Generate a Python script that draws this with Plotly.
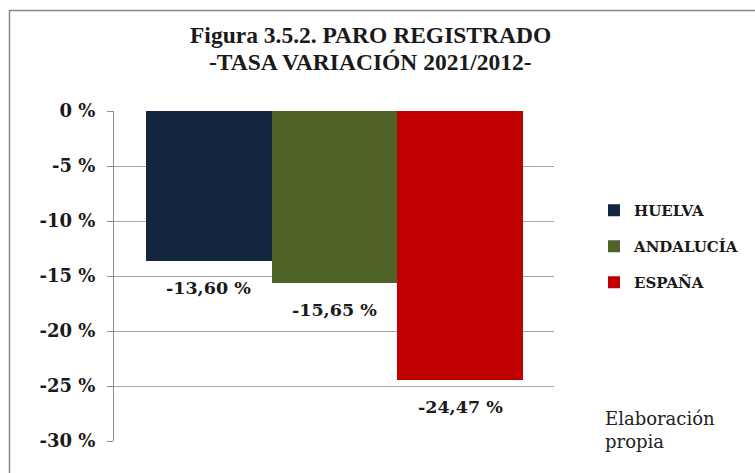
import plotly.graph_objects as go

# ---- data ----
regions = ["HUELVA", "ANDALUCÍA", "ESPAÑA"]
values = [-13.60, -15.65, -24.47]
value_labels = ["-13,60 %", "-15,65 %", "-24,47 %"]
colors = ["#14263f", "#4f6228", "#c00000"]
tick_vals = [0, -5, -10, -15, -20, -25, -30]
tick_text = ["0 %", "-5 %", "-10 %", "-15 %", "-20 %", "-25 %", "-30 %"]
title_lines = ["Figura 3.5.2. PARO REGISTRADO", "-TASA VARIACIÓN 2021/2012-"]
source_text = ["Elaboración", "propia"]

W, H = 755, 473
L, R, T, B = 114, 201, 111, 32
pw, ph = W - L - R, H - T - B


def px_x(x):
    return (x - L) / pw


def px_y(y):
    return (H - B - y) / ph


fig = go.Figure()
for name, v, c in zip(regions, values, colors):
    fig.add_trace(go.Bar(
        x=[name], y=[v], name=name, marker=dict(color=c, line=dict(width=0)),
        legendgroup=name, hoverinfo="skip",
    ))

for name, v, lab in zip(regions, values, value_labels):
    fig.add_annotation(
        x=name, y=v, text=lab, showarrow=False, yanchor="middle",
        yshift=-27, font=dict(family="DejaVu Serif", size=17.5, color="#1a1a1a", weight="bold"),
    )

# title lines
for line, yc in zip(title_lines, [35, 61.5]):
    fig.add_annotation(
        xref="paper", yref="paper", x=px_x(370), y=px_y(yc),
        xanchor="center", yanchor="middle", text=line, showarrow=False,
        font=dict(family="Liberation Serif", size=23.5, color="#1a1a1a", weight="bold"),
    )

fig.add_annotation(
    xref="paper", yref="paper",
    x=px_x(603), y=px_y(430),
    xanchor="left", yanchor="middle", align="left",
    text="<br>".join(source_text), showarrow=False,
    font=dict(family="DejaVu Serif", size=18, color="#222222"),
)

# outer frame
fig.add_shape(
    type="rect", xref="paper", yref="paper",
    x0=px_x(9.5), x1=px_x(W + 10),
    y0=px_y(H + 10), y1=px_y(10.5),
    line=dict(color="#8a8a8a", width=1.5), layer="below",
)

fig.update_layout(
    width=W, height=H,
    margin=dict(l=L, r=R, t=T, b=B, autoexpand=False),
    paper_bgcolor="white", plot_bgcolor="white",
    barmode="relative", bargap=0,
    showlegend=True,
    legend=dict(
        x=px_x(594), xanchor="left",
        y=px_y(246.5), yanchor="middle",
        font=dict(family="DejaVu Serif", size=15, color="#1a1a1a", weight="bold"),
        tracegroupgap=13.5, traceorder="grouped",
        bgcolor="rgba(0,0,0,0)",
    ),
    xaxis=dict(
        range=[-0.755, 2.747], showticklabels=False, showgrid=False,
        zeroline=False, showline=False, ticks="",
    ),
    yaxis=dict(
        range=[-30, 0], tickvals=tick_vals, ticktext=tick_text,
        showgrid=True, gridcolor="#a6a6a6", gridwidth=1,
        zeroline=False, showline=True, linecolor="#8c8c8c", linewidth=1,
        ticks="outside", ticklen=6, tickcolor="#8c8c8c",
        ticklabelstandoff=8,
        tickfont=dict(family="DejaVu Serif", size=18, color="#1a1a1a", weight="bold"),
    ),
)

fig.write_html(
    "out.html",
    config={"displayModeBar": False},
    post_script="document.body.style.margin='0';document.body.style.padding='0';",
)
